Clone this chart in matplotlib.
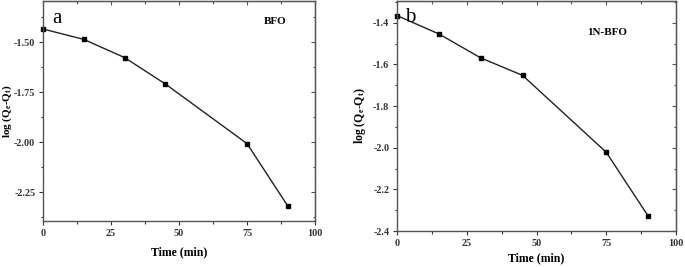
import matplotlib
matplotlib.use("Agg")
import matplotlib.pyplot as plt
from matplotlib.ticker import MultipleLocator

time_min = [0, 15, 30, 45, 75, 90]
log_bfo = [-1.435, -1.487, -1.578, -1.710, -2.008, -2.320]
log_1n_bfo = [-1.366, -1.454, -1.569, -1.653, -2.022, -2.328]

plt.rcParams['font.family'] = ['Liberation Serif', 'DejaVu Serif']
plt.rcParams['mathtext.fontset'] = 'custom'
plt.rcParams['mathtext.rm'] = 'Liberation Serif:bold'
plt.rcParams['mathtext.it'] = 'Liberation Serif:bold'
plt.rcParams['mathtext.bf'] = 'Liberation Serif:bold'

fig = plt.figure(figsize=(6.85, 2.67), dpi=100)
W, H = 685, 267


def style_axes(ax, major, minor):
    ax.set_xlim(0, 100)
    ax.xaxis.set_major_locator(MultipleLocator(25))
    ax.xaxis.set_minor_locator(MultipleLocator(12.5))
    ax.yaxis.set_major_locator(MultipleLocator(major))
    ax.yaxis.set_minor_locator(MultipleLocator(minor))
    for s in ax.spines.values():
        s.set_color('#555555')
        s.set_linewidth(1.0)
    ax.tick_params(which='both', direction='out', top=False, right=False,
                   labelsize=7.3, colors='#333333', width=0.8, pad=2.5)
    ax.tick_params(which='major', length=3)
    ax.tick_params(which='minor', length=1.8)
    for lab in ax.get_xticklabels() + ax.get_yticklabels():
        lab.set_fontweight('bold')
    # inward ticks on top and right
    sec_x = ax.secondary_xaxis('top')
    sec_x.xaxis.set_major_locator(MultipleLocator(25))
    sec_x.xaxis.set_minor_locator(MultipleLocator(12.5))
    sec_x.tick_params(which='both', direction='in', labeltop=False, colors='#555555', width=0.8)
    sec_x.tick_params(which='major', length=3)
    sec_x.tick_params(which='minor', length=1.8)
    sec_y = ax.secondary_yaxis('right')
    sec_y.yaxis.set_major_locator(MultipleLocator(major))
    sec_y.yaxis.set_minor_locator(MultipleLocator(minor))
    sec_y.tick_params(which='both', direction='in', labelright=False, colors='#555555', width=0.8)
    sec_y.tick_params(which='major', length=3)
    sec_y.tick_params(which='minor', length=1.8)


ylabel = r'log (Q$_\mathregular{e}$-Q$_\mathregular{t}$)'

# panel a
ax1 = fig.add_axes([43 / W, 1 - 221 / H, (315 - 43) / W, (221 - 1) / H])
ax1.plot(time_min, log_bfo, color='#222222', lw=1.0, marker='s', ms=3.2,
         markerfacecolor='black', markeredgecolor='black', clip_on=False)
ax1.set_ylim(-2.395, -1.295)
style_axes(ax1, 0.25, 0.125)
ax1.yaxis.set_major_formatter(plt.FormatStrFormatter('%.2f'))
ax1.set_xlabel('Time (min)', fontsize=8.5, fontweight='bold', labelpad=6)
ax1.set_ylabel(ylabel, fontsize=8, fontweight='bold')
ax1.yaxis.set_label_coords(-0.108, 0.5)
ax1.text(0.05, 0.92, 'a', transform=ax1.transAxes, fontsize=15, va='center', ha='center')
ax1.text(0.853, 0.905, 'BFO', transform=ax1.transAxes, fontsize=8, fontweight='bold',
         va='center', ha='center')

# panel b
ax2 = fig.add_axes([397 / W, 1 - 231 / H, (676 - 397) / W, (231 - 1) / H])
ax2.plot(time_min, log_1n_bfo, color='#222222', lw=1.0, marker='s', ms=3.2,
         markerfacecolor='black', markeredgecolor='black', clip_on=False)
ax2.set_ylim(-2.4, -1.296)
style_axes(ax2, 0.2, 0.1)
ax2.yaxis.set_major_formatter(plt.FormatStrFormatter('%.1f'))
ax2.set_xlabel('Time (min)', fontsize=8.5, fontweight='bold', labelpad=3)
ax2.set_ylabel(ylabel, fontsize=8.5, fontweight='bold')
ax2.yaxis.set_label_coords(-0.104, 0.5)
ax2.text(0.047, 0.93, 'b', transform=ax2.transAxes, fontsize=15, va='center', ha='center')
ax2.text(0.753, 0.861, '1N-BFO', transform=ax2.transAxes, fontsize=8, fontweight='bold',
         va='center', ha='center')

fig.savefig('out.png', dpi=100)
